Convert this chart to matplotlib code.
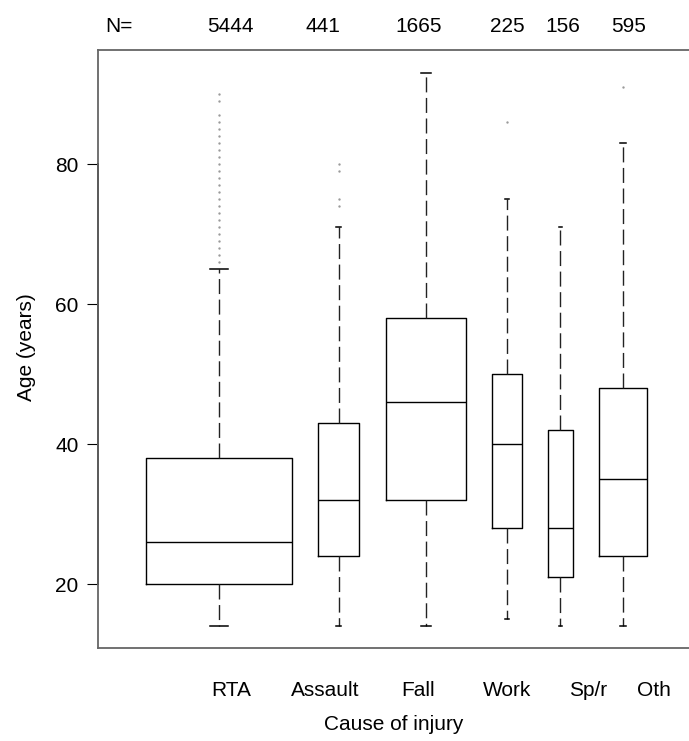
import numpy as np
import matplotlib
matplotlib.use("Agg")
import matplotlib.pyplot as plt

# data
categories = ["RTA", "Assault", "Fall", "Work", "Sp/r", "Oth"]
counts = [5444, 441, 1665, 225, 156, 595]
q1 = [20, 24, 32, 28, 21, 24]
medians = [26, 32, 46, 40, 28, 35]
q3 = [38, 43, 58, 50, 42, 48]
whis_lo = [14, 14, 14, 15, 14, 14]
whis_hi = [65, 71, 93, 75, 71, 83]
outliers = [
    [66, 67, 68, 69, 70, 71, 72, 73, 74, 75, 76, 77, 78, 79, 80, 81, 82,
     83, 84, 85, 86, 87, 89, 90],
    [74, 75, 79, 80],
    [],
    [86],
    [],
    [91],
]
yticks = [20, 40, 60, 80]

# layout (pixels of the 689x741 canvas)
W, H = 689, 741
n_label_x = [230, 323, 419, 507, 563, 629]
cat_label_x = [231, 325, 418, 507, 588, 654]

plt.rcParams["font.family"] = ["Liberation Sans", "DejaVu Sans"]

fig = plt.figure(figsize=(W / 100, H / 100), dpi=100)
ax_l, ax_t, ax_b = 97.7, 50.0, 647.7
ax = fig.add_axes([ax_l / W, 1 - ax_b / H, (W - ax_l) / W, (ax_b - ax_t) / H])

# x axis in pixels; box width ~ sqrt(N), boxes packed with a constant gap
ax.set_xlim(0, W - ax_l)
ax.set_ylim(10.94, 96.33)
widths = [1.97 * np.sqrt(n) for n in counts]
positions = []
edge = 48.6
for w in widths:
    positions.append(edge + w / 2)
    edge += w + 26.3

stats = []
for i in range(len(categories)):
    stats.append(dict(med=medians[i], q1=q1[i], q3=q3[i],
                      whislo=whis_lo[i], whishi=whis_hi[i],
                      fliers=outliers[i], label=categories[i]))

ax.bxp(stats, positions=positions, widths=widths,
       capwidths=[w / 8 for w in widths], manage_ticks=False,
       boxprops=dict(color="black", lw=1.0),
       medianprops=dict(color="black", lw=1.0),
       whiskerprops=dict(color="#222222", lw=1.0, linestyle=(0, (10.8, 4))),
       capprops=dict(color="black", lw=1.1),
       flierprops=dict(marker=".", markersize=1.4, markerfacecolor="#999999",
                       markeredgecolor="#999999", linestyle="none"))

# frame
for s in ["top", "bottom", "left"]:
    ax.spines[s].set_color("#666666")
    ax.spines[s].set_linewidth(1.3)
ax.spines["right"].set_visible(False)
ax.plot([0, 0], [yticks[0], yticks[-1]], color="black", lw=1.4,
        transform=ax.get_yaxis_transform(), clip_on=False)

ax.set_xticks([])
ax.set_yticks(yticks)
ax.tick_params(axis="y", length=7.9, width=0.8, color="black",
               labelsize=15, pad=6)

# N counts along the top
fig.text(119 / W, 1 - 27 / H, "N=", ha="center", va="center", fontsize=15)
for x, n in zip(n_label_x, counts):
    fig.text(x / W, 1 - 27 / H, str(n), ha="center", va="center", fontsize=15)

# category labels and axis titles
for x, c in zip(cat_label_x, categories):
    fig.text(x / W, 1 - 690 / H, c, ha="center", va="center", fontsize=15)
fig.text(394 / W, 1 - 725 / H, "Cause of injury", ha="center", va="center",
         fontsize=15)
fig.text(27 / W, 1 - 347 / H, "Age (years)", ha="center", va="center",
         rotation=90, fontsize=15)

fig.savefig("out.png", dpi=100)
